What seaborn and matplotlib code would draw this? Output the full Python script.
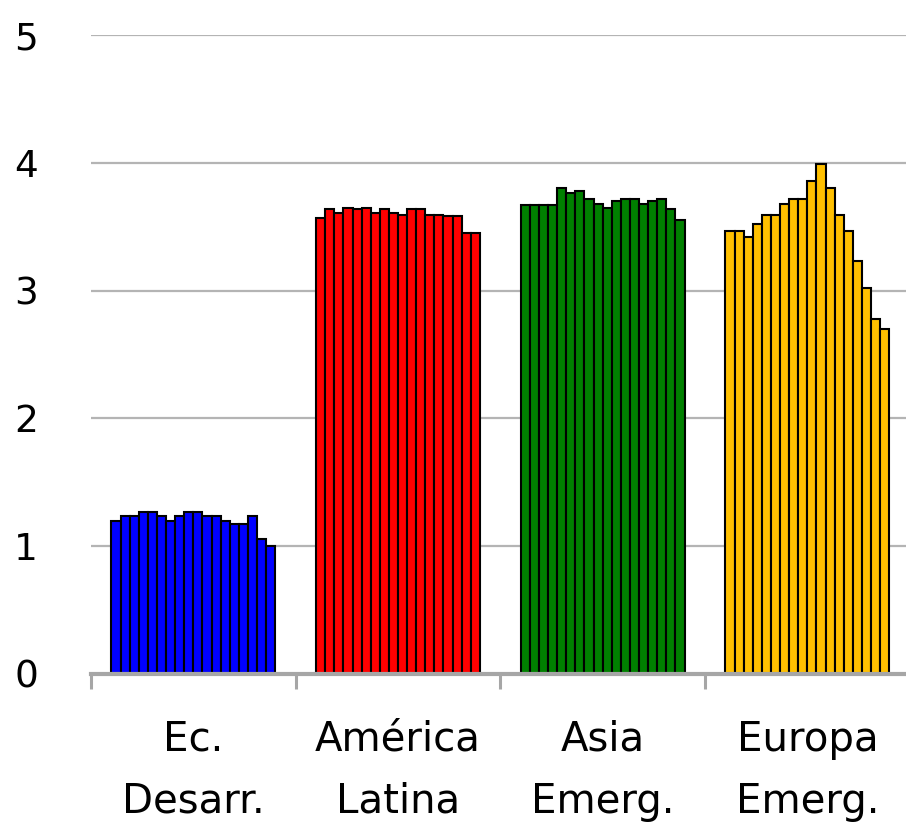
import pandas as pd
import matplotlib
matplotlib.use("Agg")
import matplotlib.pyplot as plt
import matplotlib.transforms as mtransforms
import seaborn as sns

# categories and colours
groups = ["Ec.\nDesarr.", "América\nLatina", "Asia\nEmerg.", "Europa\nEmerg."]
group_colors = ["#0000ff", "#ff0000", "#008000", "#ffc000"]

# 18 bars per group
ec_desarr = [1.20, 1.24, 1.24, 1.27, 1.27, 1.24, 1.20, 1.24, 1.27,
             1.27, 1.24, 1.24, 1.20, 1.17, 1.17, 1.24, 1.06, 1.00]
america_latina = [3.57, 3.64, 3.61, 3.65, 3.64, 3.65, 3.61, 3.64, 3.61,
                  3.59, 3.64, 3.64, 3.59, 3.59, 3.58, 3.58, 3.45, 3.45]
asia_emerg = [3.67, 3.67, 3.67, 3.67, 3.80, 3.76, 3.78, 3.72, 3.68,
              3.65, 3.70, 3.72, 3.72, 3.68, 3.70, 3.72, 3.64, 3.55]
europa_emerg = [3.47, 3.47, 3.42, 3.52, 3.59, 3.59, 3.68, 3.72, 3.72,
                3.86, 3.99, 3.80, 3.59, 3.47, 3.23, 3.02, 2.78, 2.70]

yticks = [0, 1, 2, 3, 4, 5]


def build_frame():
    """Long table: one row per bar."""
    rows = []
    for g, vals in zip(groups, [ec_desarr, america_latina, asia_emerg, europa_emerg]):
        for i, v in enumerate(vals):
            rows.append({"grupo": g, "idx": i, "valor": v})
    return pd.DataFrame(rows)


df = build_frame()

sns.set_style("white")
plt.rcParams["font.family"] = ["DejaVu Sans"]

fig = plt.figure(figsize=(9.06, 8.23), dpi=100)
ax = fig.add_axes([91 / 906, 149 / 823, 815 / 906, 639 / 823])

sns.barplot(data=df, x="grupo", y="valor", hue="idx", order=groups,
            dodge=True, width=0.8, legend=False, ax=ax,
            edgecolor="black", linewidth=1.5, zorder=3)

# colour bars by group rather than by hue level
for cont in ax.containers:
    for j, bar in enumerate(cont):
        bar.set_facecolor(group_colors[j])

ax.set_ylim(0, 5)
ax.set_xlim(-0.5, 3.482)
ax.set_yticks(yticks)
ax.set_yticklabels([str(t) for t in yticks], fontsize=27, color="black")
ax.yaxis.grid(True, color="#b4b4b4", linewidth=1.6, zorder=0)
ax.set_axisbelow(True)

# y labels sit a little above their gridlines in the original
shift = mtransforms.ScaledTranslation(0, 4 / 72, fig.dpi_scale_trans)
for lab in ax.get_yticklabels():
    lab.set_transform(lab.get_transform() + shift)

ax.set_xticks(range(len(groups)))
ax.set_xticklabels(groups, fontsize=29, linespacing=1.7, color="black")
ax.set_xticks([-0.5, 0.5, 1.5, 2.5], minor=True)
ax.tick_params(axis="x", which="major", length=0, pad=33)
ax.tick_params(axis="x", which="minor", length=11, width=2.2, color="#a6a6a6",
               direction="out", bottom=True)
ax.tick_params(axis="y", length=0, pad=38)

for side in ["top", "right", "left"]:
    ax.spines[side].set_visible(False)
ax.spines["bottom"].set_color("#a6a6a6")
ax.spines["bottom"].set_linewidth(3)
ax.spines["bottom"].set_zorder(4)

ax.set_xlabel("")
ax.set_ylabel("")

fig.savefig("out.png", dpi=100)
